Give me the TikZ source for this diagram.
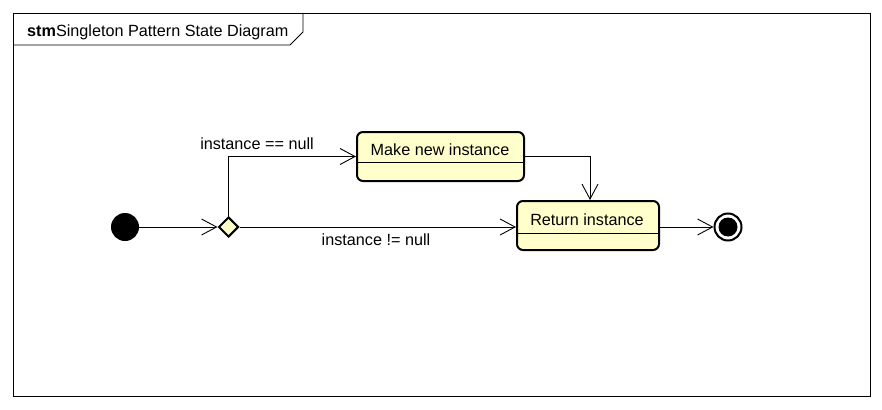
\documentclass[tikz,border=0pt]{standalone}
\usepackage{fontspec}
\setmainfont{Liberation Sans}
\usetikzlibrary{arrows.meta,shapes.geometric,calc}
\definecolor{stfill}{HTML}{FFFFCC}
\tikzset{
  stbox/.style={draw=black, line width=2pt, rounded corners=6pt, fill=stfill, inner sep=0pt},
  lbl/.style={font=\fontsize{16.2}{19}\selectfont, inner sep=0pt},
  conn/.style={line width=0.9pt, -{Straight Barb[length=15pt,width=16pt,line width=0.9pt]}},
}
\begin{document}
\begin{tikzpicture}[x=1pt,y=-1pt]
\useasboundingbox (0,0) rectangle (882,409);
% frame
\draw[line width=0.9pt] (13,13) rectangle (870,396);
\draw[line width=0.9pt] (13,45) -- (290,45) -- (303,32) -- (303,13);
\node[lbl, anchor=base west] (title) at (27,37) {\textbf{stm}Singleton Pattern State Diagram};
% initial
\node[circle, fill=black, minimum size=28pt, inner sep=0pt] (init) at (125,227) {};
% decision
\node[diamond, draw=black, line width=2pt, fill=stfill, minimum width=20pt, minimum height=20pt, inner sep=0pt] (dec) at (228.5,227) {};
% states
\node[stbox, minimum width=167pt, minimum height=49pt] (make) at (440.5,156.5) {};
\node[lbl] (maket) at (440,150) {Make new instance};
\draw[line width=0.9pt] (make.west |- 0,162) -- (make.east |- 0,162);
\node[stbox, minimum width=142pt, minimum height=49pt] (ret) at (588,225.5) {};
\node[lbl] (rett) at (587,220) {Return instance};
\draw[line width=0.9pt] (ret.west |- 0,233) -- (ret.east |- 0,233);
% final
\node[circle, draw=black, line width=2pt, fill=white, minimum size=27pt, inner sep=0pt] (fin) at (728,227) {};
\node[circle, fill=black, minimum size=19pt, inner sep=0pt] (finin) at (fin.center) {};
% connectors
\draw[conn] (init.east) -- (dec.west);
\draw[conn] (dec.north) |- (make.west);
\draw[conn] (dec.east) -- (dec.east -| ret.west);
\draw[conn] (make.east) -| ($(ret.north)+(2,0)$);
\draw[conn] (ret.east |- fin.west) -- (fin.west);
% labels
\node[lbl] (l1) at (257,144) {instance == null};
\node[lbl] (l2) at (376,240) {instance != null};
\end{tikzpicture}
\end{document}
